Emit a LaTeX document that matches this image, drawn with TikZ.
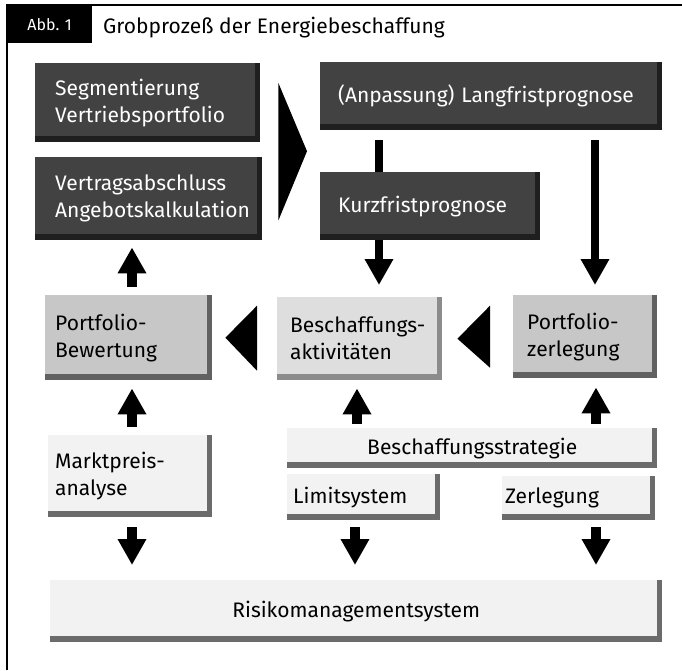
\documentclass[tikz,border=0pt]{standalone}
\usepackage{fontspec}
\setmainfont{Fira Sans}
\usetikzlibrary{arrows.meta,calc}

\tikzset{
    box/.style={anchor=north west, inner ysep=0pt, align=left,
        font=\fontsize{21}{27}\selectfont},
    stin/.style={path picture={
        \fill[#1] ([xshift=-5pt]path picture bounding box.north east)
            rectangle (path picture bounding box.south east);
        \fill[#1] (path picture bounding box.south west)
            rectangle ([yshift=6pt]path picture bounding box.south east);}},
    tmavy/.style={box, fill=black!74, text=white, stin=black!88},
    sedy/.style={box, fill=black!22, stin=black!62},
    svetly/.style={box, fill=black!5, stin=black!58},
    sipka/.style={line width=10pt, -{Triangle[width=27pt,length=26pt]}},
}

\begin{document}
\begin{tikzpicture}[x=1pt,y=-1pt]
        \useasboundingbox (0,0) rectangle (682,670);
        % rámeček a nadpis
        \draw[line width=1.5pt] (7,670) -- (7,5) -- (682,5);
        \node[anchor=north west, fill=black, text=white, minimum width=85pt,
            minimum height=38pt, font=\fontsize{16}{19}\selectfont] (abb) at (7,5) {Abb. 1};
        \node[anchor=base west, inner sep=0pt, font=\fontsize{21}{25}\selectfont]
            (nadpis) at (103,33) {Grobprozeß der Energiebeschaffung};

        % horní řada
        \node[tmavy, inner xsep=20pt, text width=185pt, minimum height=79pt] (seg) at (35,63)
            {Segmentierung\\Vertriebsportfolio};
        \node[tmavy, inner xsep=20pt, text width=187pt, minimum height=83pt] (vert) at (35,157)
            {Vertragsabschluss\\Angebotskalkulation};
        \node[tmavy, inner xsep=18pt, text width=306pt, minimum height=68pt] (lang) at (320,62)
            {(Anpassung) Langfristprognose};

        % prostřední řada
        \node[sedy, inner xsep=10pt, text width=147pt, minimum height=85pt] (bew) at (45,295)
            {Portfolio-\\Bewertung};
        \node[box, fill=black!13, stin=black!45, inner xsep=13pt, text width=139pt,
            minimum height=83pt] (besch) at (277,297) {Beschaffungs-\\aktivitäten};
        \node[sedy, inner xsep=14pt, text width=116pt, minimum height=83pt] (zerl) at (513,295)
            {Portfolio-\\zerlegung};

        \draw[sipka, line width=8pt, shorten <=10pt, shorten >=12pt]
            (lang.south -| 379,0) -- (besch.north -| 379,0);
        \draw[sipka, line width=8pt, shorten <=10pt, shorten >=10pt]
            (lang.south -| 595,0) -- (zerl.north -| 595,0);
        \node[tmavy, inner xsep=18pt, text width=184pt, minimum height=68pt] (kurz) at (320,172)
            {Kurzfristprognose};

        % dolní řada
        \node[svetly, inner xsep=7pt, text width=150pt, minimum height=82pt] (markt) at (48,435)
            {Marktpreis-\\analyse};
        \node[svetly, align=center, minimum width=370pt, minimum height=40pt] (strat) at (287,428)
            {Beschaffungsstrategie};
        \node[svetly, inner xsep=6pt, text width=141pt, minimum height=46pt] (limit) at (287,474)
            {Limitsystem};
        \node[svetly, inner xsep=3pt, text width=147pt, minimum height=44pt] (zerleg) at (502,476)
            {Zerlegung};
        \node[svetly, align=center, minimum width=612pt, minimum height=62pt] (risiko) at (50,580)
            {Risikomanagementsystem};

        % šipky
        \fill ($(seg.north east)+(18,20)$) -- ($(vert.south east)+(16,-20)$)
            -- ($(lang.west)!0.5!(kurz.west)+(-13,0)$) -- cycle;
        \fill ($(besch.west)+(-20,-33)$) -- ($(besch.west)+(-20,32)$)
            -- ($(bew.east)+(13,0)$) -- cycle;
        \fill ($(zerl.west)+(-23,-31)$) -- ($(zerl.west)+(-23,31)$)
            -- ($(besch.east)+(15,0)$) -- cycle;

        \draw[sipka, shorten <=8pt, shorten >=7pt] (bew.north -| 132,0) -- (vert.south -| 132,0);
        \draw[sipka, shorten <=8pt, shorten >=8pt] (markt.north -| 132,0) -- (bew.south -| 132,0);
        \draw[sipka, shorten <=4pt, shorten >=8pt] (strat.north -| 357,0) -- (besch.south -| 357,0);
        \draw[sipka, shorten <=4pt, shorten >=9pt] (strat.north -| 596,0) -- (zerl.south -| 596,0);
        \draw[sipka, shorten <=10pt, shorten >=15pt] (markt.south -| 132,0) -- (risiko.north -| 132,0);
        \draw[sipka, shorten <=7pt, shorten >=15pt] (limit.south -| 355,0) -- (risiko.north -| 355,0);
        \draw[sipka, shorten <=7pt, shorten >=15pt] (zerleg.south -| 596,0) -- (risiko.north -| 596,0);
    \end{tikzpicture}
\end{document}
